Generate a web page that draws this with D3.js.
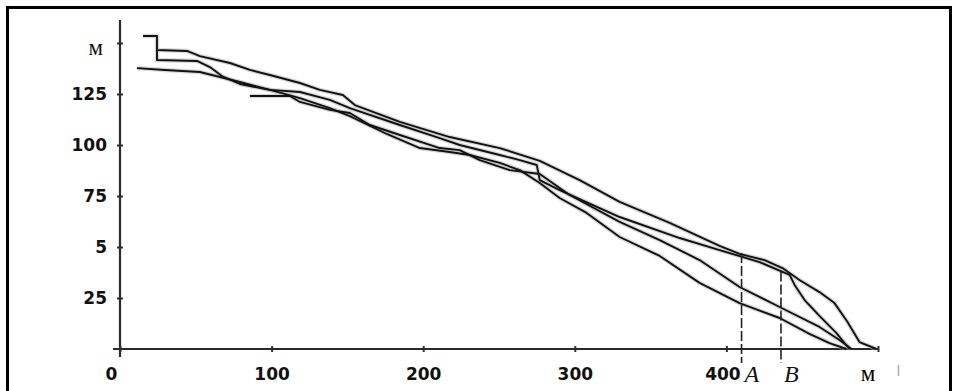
<!DOCTYPE html>
<html>
<head>
<meta charset="utf-8">
<script src="https://cdn.jsdelivr.net/npm/d3@7"></script>
<style>
	body { margin: 0; background: #fff; }
</style>
</head>
<body>
<svg id="chart"></svg>
<script>
const WIDTH = 958;
const HEIGHT = 391;

// axis ticks and their printed labels (the source prints "5" for 50 and the unit at the top)
const xTicks = [0, 100, 200, 300, 400, 500];
const xTickLabels = ['0', '100', '200', '300', '400', ''];
const yTicks = [25, 50, 75, 100, 125, 150];
const yTickLabels = ['25', '5', '75', '100', '125', 'м'];
const unitLabel = 'м';

// marked sections
const sectionNames = ['A', 'B'];
const sectionX = [410, 436];
const sectionTop = [47, 38];

// slope profiles, [distance m, height m]
const profile1 = [
	[15.2, 153.4], [24.4, 153.4], [24.4, 146.6], [44.2, 146.1], [52.7, 143.6], [72.5, 140.2],
	[85.7, 136.8], [98.9, 134.3], [118.7, 130.4], [131.8, 127.0], [147.0, 124.5], [154.9, 119.6],
	[184.6, 111.3], [217.5, 103.9], [250.5, 98.5], [276.9, 92.2], [303.2, 82.8], [329.6, 72.1],
	[362.6, 61.8], [395.5, 50.5], [408.7, 46.6], [425.2, 43.6], [437.0, 39.7], [448.2, 33.8],
	[461.4, 27.9], [471.3, 22.5], [479.9, 13.2], [487.8, 3.4], [499.0, 0]
];
const profile2 = [
	[24.4, 146.6], [24.4, 141.7], [50.8, 141.2], [59.3, 138.2], [67.2, 133.8], [79.1, 129.9],
	[98.9, 127.0], [118.7, 126.0], [138.4, 122.1], [151.6, 118.1], [184.6, 109.8], [210.9, 103.4],
	[224.1, 100.0], [250.5, 95.1], [263.7, 92.6], [274.9, 90.2], [276.9, 82.8], [290.0, 77.9],
	[329.6, 64.7], [369.2, 54.4], [395.5, 48.5], [421.9, 42.6], [441.7, 36.3], [445.0, 31.4],
	[451.6, 24.0], [461.4, 16.2], [472.6, 7.8], [481.2, 0]
];
const profile3 = [
	[11.2, 137.7], [29.7, 136.8], [52.7, 135.8], [79.1, 130.9], [98.9, 127.0], [118.7, 123.0],
	[138.4, 118.1], [151.6, 114.2], [176.0, 105.4], [197.8, 98.5], [217.5, 96.6], [230.7, 95.1],
	[250.5, 91.2], [263.7, 87.7], [276.9, 81.4], [290.0, 74.0], [307.8, 66.7], [329.6, 54.9],
	[356.0, 45.6], [382.3, 32.4], [408.7, 22.5], [435.1, 15.2], [454.8, 7.4], [468.0, 2.9],
	[479.2, 0]
];
const profile4 = [
	[85.7, 124.0], [112.1, 124.0], [118.7, 121.1], [138.4, 117.2], [151.6, 115.7], [164.8, 109.8],
	[184.6, 104.9], [210.9, 98.5], [224.1, 97.5], [237.3, 92.6], [257.1, 87.7], [276.9, 85.8],
	[296.6, 75.5], [329.6, 62.3], [356.0, 53.4], [382.3, 43.6], [408.7, 30.4], [435.1, 20.6],
	[461.4, 10.8], [474.6, 4.4], [482.5, 0]
];
const profiles = [profile1, profile2, profile3, profile4];

const svg = d3.select('#chart')
	.attr('width', WIDTH)
	.attr('height', HEIGHT)
	.style('display', 'block');

// frame round the figure
svg.append('rect')
	.attr('x', 7.5)
	.attr('y', 7.5)
	.attr('width', 943)
	.attr('height', 392)
	.attr('fill', 'none')
	.attr('stroke', '#000')
	.attr('stroke-width', 3);

const x = d3.scaleLinear().domain([0, 500]).range([120, 878]);
const y = d3.scaleLinear().domain([0, 150]).range([349, 43]);

const numFont = '"DejaVu Sans", Verdana, sans-serif';
const serifFont = '"Liberation Serif", "Times New Roman", serif';

// y axis
const yAxis = svg.append('g')
	.attr('transform', `translate(${x(0)},0)`)
	.call(d3.axisLeft(y).tickValues(yTicks).tickSize(3).tickPadding(10)
		.tickFormat((d, i) => yTickLabels[i]));
yAxis.select('.domain').remove();
yAxis.append('line')
	.attr('y1', 20)
	.attr('y2', 357)
	.attr('stroke', '#2a2a2a')
	.attr('stroke-width', 2.2);
yAxis.selectAll('.tick line')
	.attr('x2', 3)
	.attr('x1', -3)
	.attr('stroke', '#333')
	.attr('stroke-width', 2);
yAxis.selectAll('.tick text')
	.attr('fill', '#111')
	.style('font-family', numFont)
	.style('font-weight', 'bold')
	.style('font-size', '17px');
yAxis.selectAll('.tick')
	.filter((d) => d === 150)
	.select('text')
	.attr('x', -17)
	.attr('dy', '0.5em')
	.style('font-family', serifFont)
	.style('font-weight', 'normal')
	.style('font-size', '23px');

// x axis
const xAxis = svg.append('g')
	.attr('transform', `translate(0,${y(0)})`)
	.call(d3.axisBottom(x).tickValues(xTicks).tickSize(3).tickPadding(16)
		.tickFormat((d, i) => xTickLabels[i]));
xAxis.select('.domain').remove();
xAxis.append('line')
	.attr('x1', 113)
	.attr('x2', x(500))
	.attr('stroke', '#2a2a2a')
	.attr('stroke-width', 2.2);
xAxis.selectAll('.tick line')
	.attr('y1', -3)
	.attr('y2', 3)
	.attr('stroke', '#333')
	.attr('stroke-width', 2);
xAxis.selectAll('.tick text')
	.attr('fill', '#111')
	.style('font-family', numFont)
	.style('font-weight', 'bold')
	.style('font-size', '17px');
xAxis.selectAll('.tick')
	.filter((d) => d === 0)
	.select('text')
	.attr('dx', -9);
xAxis.selectAll('.tick')
	.filter((d) => d === 400)
	.select('text')
	.attr('dx', -4);

// unit at the end of the x axis
svg.append('text')
	.attr('x', x(500) - 10)
	.attr('y', 381)
	.attr('text-anchor', 'middle')
	.style('font-family', serifFont)
	.style('font-size', '23px')
	.text(unitLabel);

// small stray mark right of the axis end
svg.append('line')
	.attr('x1', 898.5)
	.attr('x2', 898.5)
	.attr('y1', 365)
	.attr('y2', 376)
	.attr('stroke', '#aaa')
	.attr('stroke-width', 1.5);

// profiles
const line = d3.line()
	.x((d) => x(d[0]))
	.y((d) => y(d[1]));

const plot = svg.append('g');
plot.selectAll('path.halo')
	.data(profiles)
	.enter()
	.append('path')
	.attr('class', 'halo')
	.attr('d', line)
	.attr('fill', 'none')
	.attr('stroke', '#aaa')
	.attr('stroke-opacity', 0.45)
	.attr('stroke-width', 4.5);
plot.selectAll('path.profile')
	.data(profiles)
	.enter()
	.append('path')
	.attr('class', 'profile')
	.attr('d', line)
	.attr('fill', 'none')
	.attr('stroke', '#111')
	.attr('stroke-width', 1.9)
	.attr('stroke-linejoin', 'round');

// sections A and B
const sections = svg.append('g')
	.selectAll('g')
	.data(sectionNames)
	.enter()
	.append('g');
sections.append('line')
	.attr('x1', (d, i) => x(sectionX[i]))
	.attr('x2', (d, i) => x(sectionX[i]))
	.attr('y1', (d, i) => y(sectionTop[i]))
	.attr('y2', 363)
	.attr('stroke', '#222')
	.attr('stroke-width', 1.6)
	.attr('stroke-dasharray', '10,3');
sections.append('text')
	.attr('x', (d, i) => x(sectionX[i]) + 3)
	.attr('y', 382)
	.style('font-family', serifFont)
	.style('font-style', 'italic')
	.style('font-size', '24px')
	.attr('fill', '#111')
	.text((d) => d);
</script>
</body>
</html>
